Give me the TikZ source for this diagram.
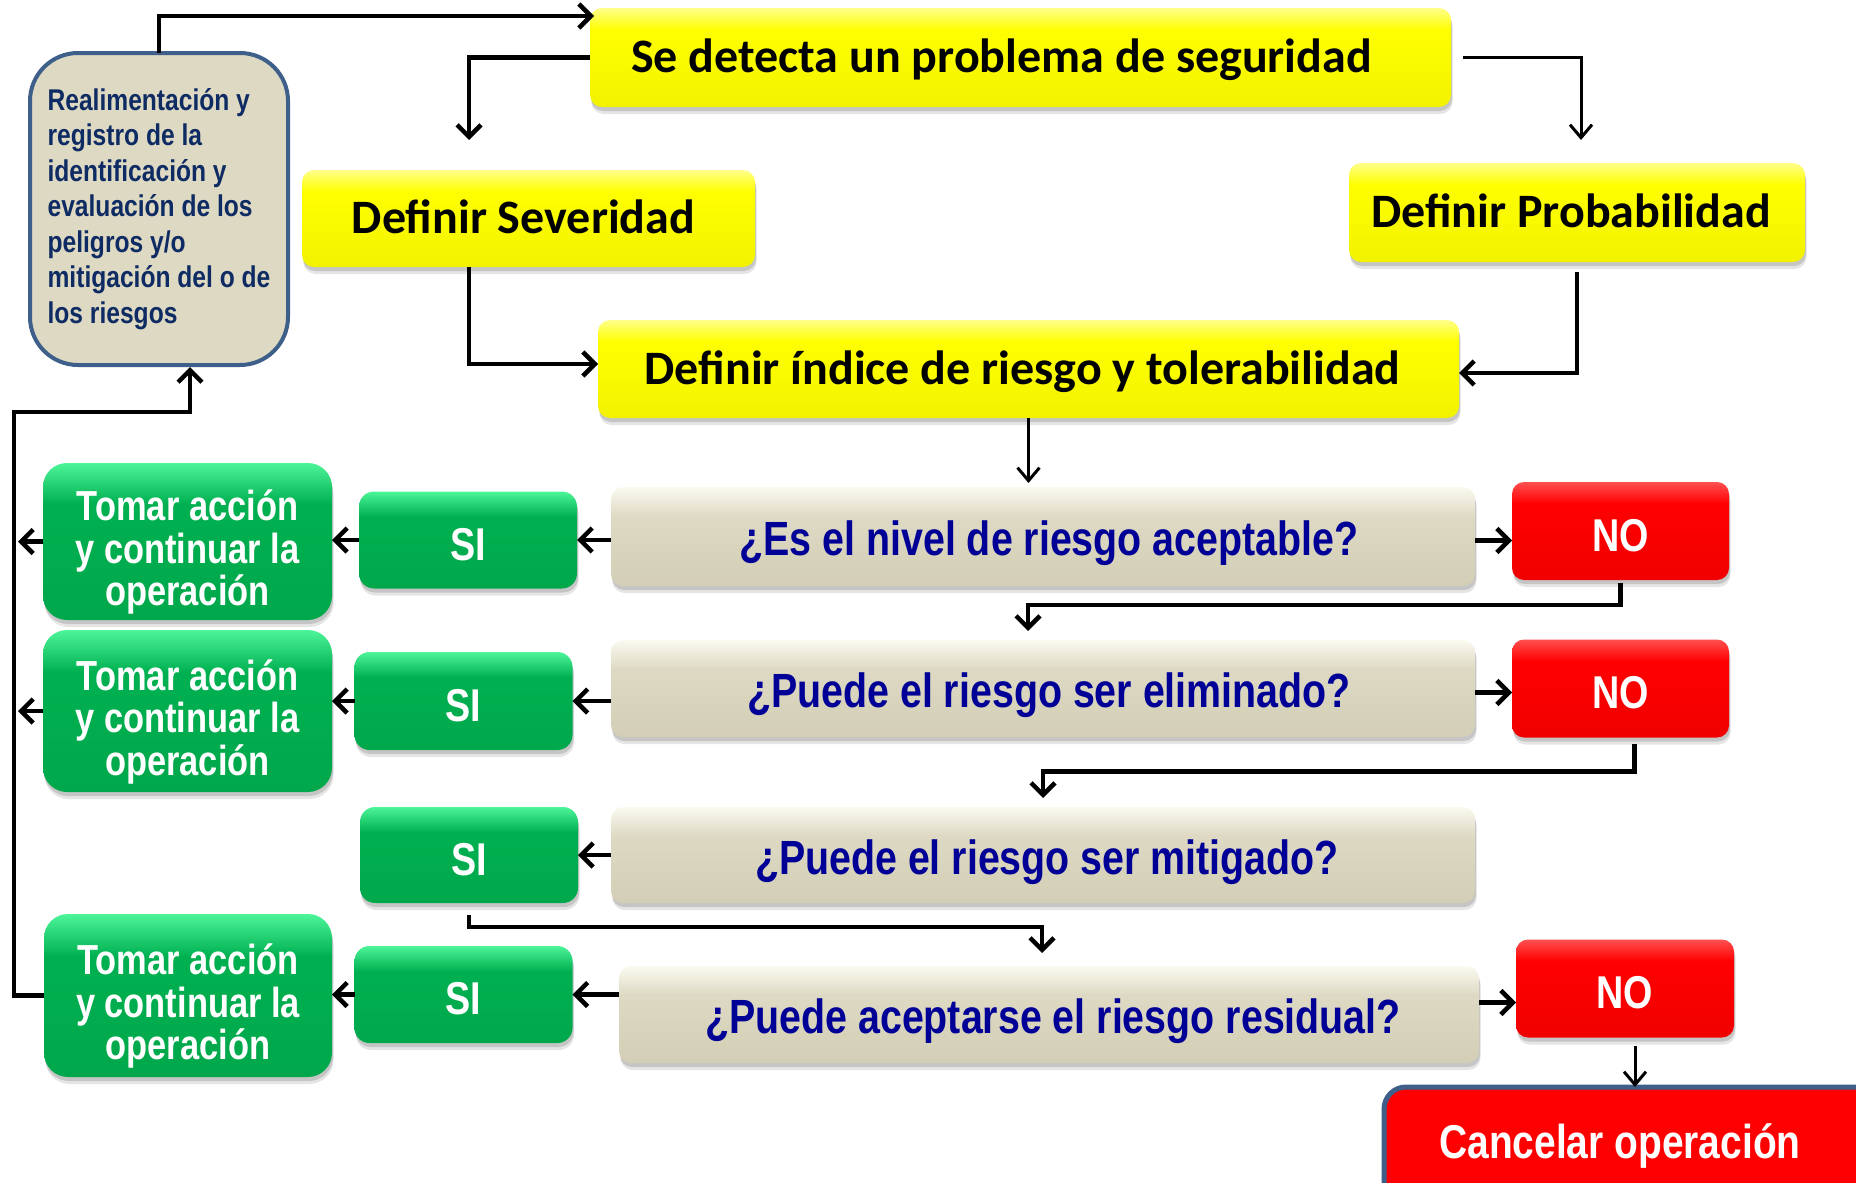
\documentclass[tikz,border=0pt]{standalone}
\usepackage{fontspec}
\usetikzlibrary{arrows.meta,shadows,calc}
\newfontfamily\calfont{Carlito}
\newfontfamily\narrowf[FakeStretch=0.82]{Liberation Sans}
\definecolor{ylwL}{HTML}{FFFF8A}
\definecolor{ylwB}{HTML}{FFFF00}
\definecolor{ylwD}{HTML}{F2F200}
\definecolor{grL}{HTML}{4CF598}
\definecolor{grB}{HTML}{00B050}
\definecolor{grD}{HTML}{00A84B}
\definecolor{bgL}{HTML}{FBFAF0}
\definecolor{bgB}{HTML}{DDD9C3}
\definecolor{bgD}{HTML}{D3CEB5}
\definecolor{rdL}{HTML}{FF5050}
\definecolor{rdB}{HTML}{FF0000}
\definecolor{rdD}{HTML}{F00000}
\definecolor{fbBorder}{HTML}{3E5F8A}
\definecolor{fbFill}{HTML}{DDD9C3}
\definecolor{fbText}{HTML}{0F2B63}
\definecolor{qText}{HTML}{000096}
\pgfdeclareverticalshading{yelbev}{100bp}{color(0bp)=(ylwD); color(25bp)=(ylwD); color(64bp)=(ylwB); color(75bp)=(ylwL); color(100bp)=(ylwL)}
\pgfdeclareverticalshading{grnbev}{100bp}{color(0bp)=(grD); color(25bp)=(grD); color(62bp)=(grB); color(75bp)=(grL); color(100bp)=(grL)}
\pgfdeclareverticalshading{begbev}{100bp}{color(0bp)=(bgD); color(25bp)=(bgD); color(60bp)=(bgB); color(75bp)=(bgL); color(100bp)=(bgL)}
\pgfdeclareverticalshading{redbev}{100bp}{color(0bp)=(rdD); color(25bp)=(rdD); color(64bp)=(rdB); color(75bp)=(rdL); color(100bp)=(rdL)}
\newcommand{\tomartext}{\rule{0pt}{52pt}Tomar acción\\y continuar la\\operación}
\tikzset{
  every node/.style={inner sep=0pt, outer sep=0pt},
  softshadow/.style={
    drop shadow={shadow xshift=1.5pt, shadow yshift=-7pt, opacity=0.10, fill=black},
    drop shadow={shadow xshift=1pt, shadow yshift=-4pt, opacity=0.14, fill=black}},
  ybox/.style={shade, shading=yelbev, rounded corners=12pt, softshadow,
    font=\calfont\bfseries\fontsize{48}{50}\selectfont, text height=30pt, text depth=0pt},
  qbox/.style={shade, shading=begbev, rounded corners=12pt, softshadow, text=qText,
    minimum width=864pt, font=\narrowf\bfseries\fontsize{48}{50}\selectfont, text height=38pt, text depth=0pt},
  nobox/.style={shade, shading=redbev, rounded corners=12pt, softshadow, text=white,
    minimum width=217pt, minimum height=98pt,
    font=\narrowf\bfseries\fontsize{46}{50}\selectfont, text height=40pt, text depth=0pt},
  sibox/.style={shade, shading=grnbev, rounded corners=15pt, softshadow, text=white,
    minimum width=218pt, minimum height=97pt,
    font=\narrowf\bfseries\fontsize{46}{50}\selectfont, text height=40pt, text depth=0pt},
  tbox/.style={shade, shading=grnbev, rounded corners=24pt, softshadow, text=white,
    minimum width=289pt, align=center,
    font=\narrowf\bfseries\fontsize{42}{42.6}\selectfont},
  fbbox/.style={draw=fbBorder, line width=4pt, fill=fbFill, rounded corners=48pt,
    align=left, text=fbText, font=\narrowf\bfseries\fontsize{30}{35.5}\selectfont},
  cbox/.style={draw=fbBorder, line width=5pt, fill=rdB, rounded corners=22pt, text=white,
    font=\narrowf\bfseries\fontsize{47.5}{50}\selectfont, text height=34pt, text depth=0pt},
  arr/.style={line width=4.5pt, -{Straight Barb[length=12pt,width=24pt]}},
  arrT/.style={line width=3pt, -{Straight Barb[length=13pt,width=22pt]}},
}
\begin{document}
\begin{tikzpicture}[x=1pt,y=-1pt]
\useasboundingbox (0,0) rectangle (1856,1183);
\clip (0,0) rectangle (1856,1183);

% free-end coordinates
\coordinate (Ltip) at (18,0);
\coordinate (loopc) at (14,412);
\coordinate (sevTip) at (469,140);
\coordinate (probTip) at (1581,140);

% feedback box
\node[fbbox, minimum width=258pt, minimum height=312pt] (fb) at (159,209)
  {Realimentación y\\registro de la\\identificación y\\evaluación de los\\peligros y/o\\mitigación del o de\\los riesgos};

% yellow boxes
\node[ybox, minimum width=861pt, minimum height=99pt] (se) at (1020.5,57.5) {\hspace*{-38pt}Se detecta un problema de seguridad};
\node[ybox, minimum width=453pt, minimum height=97pt] (sev) at (528.5,218.5) {\hspace*{-10pt}Definir Severidad};
\node[ybox, minimum width=456pt, minimum height=99pt] (prob) at (1577,212.5) {\hspace*{-12pt}Definir Probabilidad};
\node[ybox, minimum width=861pt, minimum height=98pt] (idx) at (1028.5,369) {\hspace*{-12pt}Definir índice de riesgo y tolerabilidad};

% questions
\node[qbox, minimum height=99pt] (q1) at (1043,536.5) {\hspace*{12pt}¿Es el nivel de riesgo aceptable?};
\node[qbox, minimum height=97pt] (q2) at (1043,688.5) {\hspace*{12pt}¿Puede el riesgo ser eliminado?};
\node[qbox, minimum height=96pt] (q3) at (1043,855) {\hspace*{8pt}¿Puede el riesgo ser mitigado?};
\node[qbox, minimum width=860pt, minimum height=97pt] (q4) at (1049,1014.5) {\hspace*{8pt}¿Puede aceptarse el riesgo residual?};

% NO boxes
\node[nobox] (no1) at (1620.5,531) {NO};
\node[nobox] (no2) at (1620.5,688.5) {NO};
\node[nobox, minimum width=218pt] (no3) at (1625,988.5) {NO};

% SI boxes
\node[sibox] (si1) at (468,540) {SI};
\node[sibox, minimum height=98pt] (si2) at (463.5,701) {SI};
\node[sibox, minimum height=96pt] (si3) at (469,855) {SI};
\node[sibox] (si4) at (463.5,994.5) {SI};

% Tomar boxes
\node[tbox, minimum height=157pt] (t1) at (187.5,541.5) {\tomartext};
\node[tbox, minimum height=162pt] (t2) at (187.5,711) {\tomartext};
\node[tbox, minimum height=163pt, minimum width=288pt] (t3) at (188,995.5) {\tomartext};

% cancel
\node[cbox, minimum width=496pt, minimum height=130pt] (cancel) at (1632,1152) {};
\node[cbox, draw=none, fill=none] (canceltxt) at (1620,1141) {Cancelar operación};

% connectors top
\draw[arr] (fb.north) |- ($(se.north west)+(4,8)$);
\draw[arr] (se.west) -| (sevTip);
\draw[arrT] ([xshift=12pt]se.east) -| (probTip);
\draw[arr] (sev.south -| sevTip) |- ([yshift=5pt]idx.west);
\draw[arr] ([yshift=-10pt]prob.south) |- ([yshift=-4pt]idx.east);
\draw[arrT] (idx.south) -- ([yshift=4pt]idx.south |- q1.north);

% question -> NO
\draw[arr] ([yshift=-4pt]q1.east) -- ([yshift=-4pt]q1.east -| no1.west);
\draw[arr] ([yshift=-4pt]q2.east) -- ([yshift=-4pt]q2.east -| no2.west);
\draw[arr] ([yshift=12pt]q4.east) -- ([yshift=12pt]q4.east -| no3.west);

% NO -> next question
\draw[arr] ([yshift=-3pt]no1.south) -- ++(0,22) -| ([xshift=-15pt,yshift=9pt]q2.north);
\draw[arr] ([xshift=14pt,yshift=-6pt]no2.south) -- ++(0,28) -| ([yshift=9pt]q3.north);
\draw[arr] ([yshift=-12pt]si3.south) -- ++(0,12) -| ([xshift=-7pt,yshift=13pt]q4.north);
\draw[arrT] ([xshift=10pt,yshift=-8pt]no3.south) -- ([xshift=10pt]no3.south |- cancel.north);

% question -> SI
\draw[arr] (q1.west |- si1) -- (si1.east);
\draw[arr] (q2.west |- si2) -- (si2.east);
\draw[arr] (q3.west |- si3) -- (si3.east);
\draw[arr] (q4.west |- si4) -- (si4.east);

% SI -> Tomar
\draw[arr] (si1.west) -- (si1.west -| t1.east);
\draw[arr] (si2.west) -- (si2.west -| t2.east);
\draw[arr] (si4.west) -- (si4.west -| t3.east);

% Tomar -> loop line
\draw[arr] (t1.west) -- (t1.west -| Ltip);
\draw[arr] (t2.west) -- (t2.west -| Ltip);
\draw[arr] (t3.west) -| (loopc) -| ([xshift=31pt,yshift=-2pt]fb.south);
\end{tikzpicture}
\end{document}
